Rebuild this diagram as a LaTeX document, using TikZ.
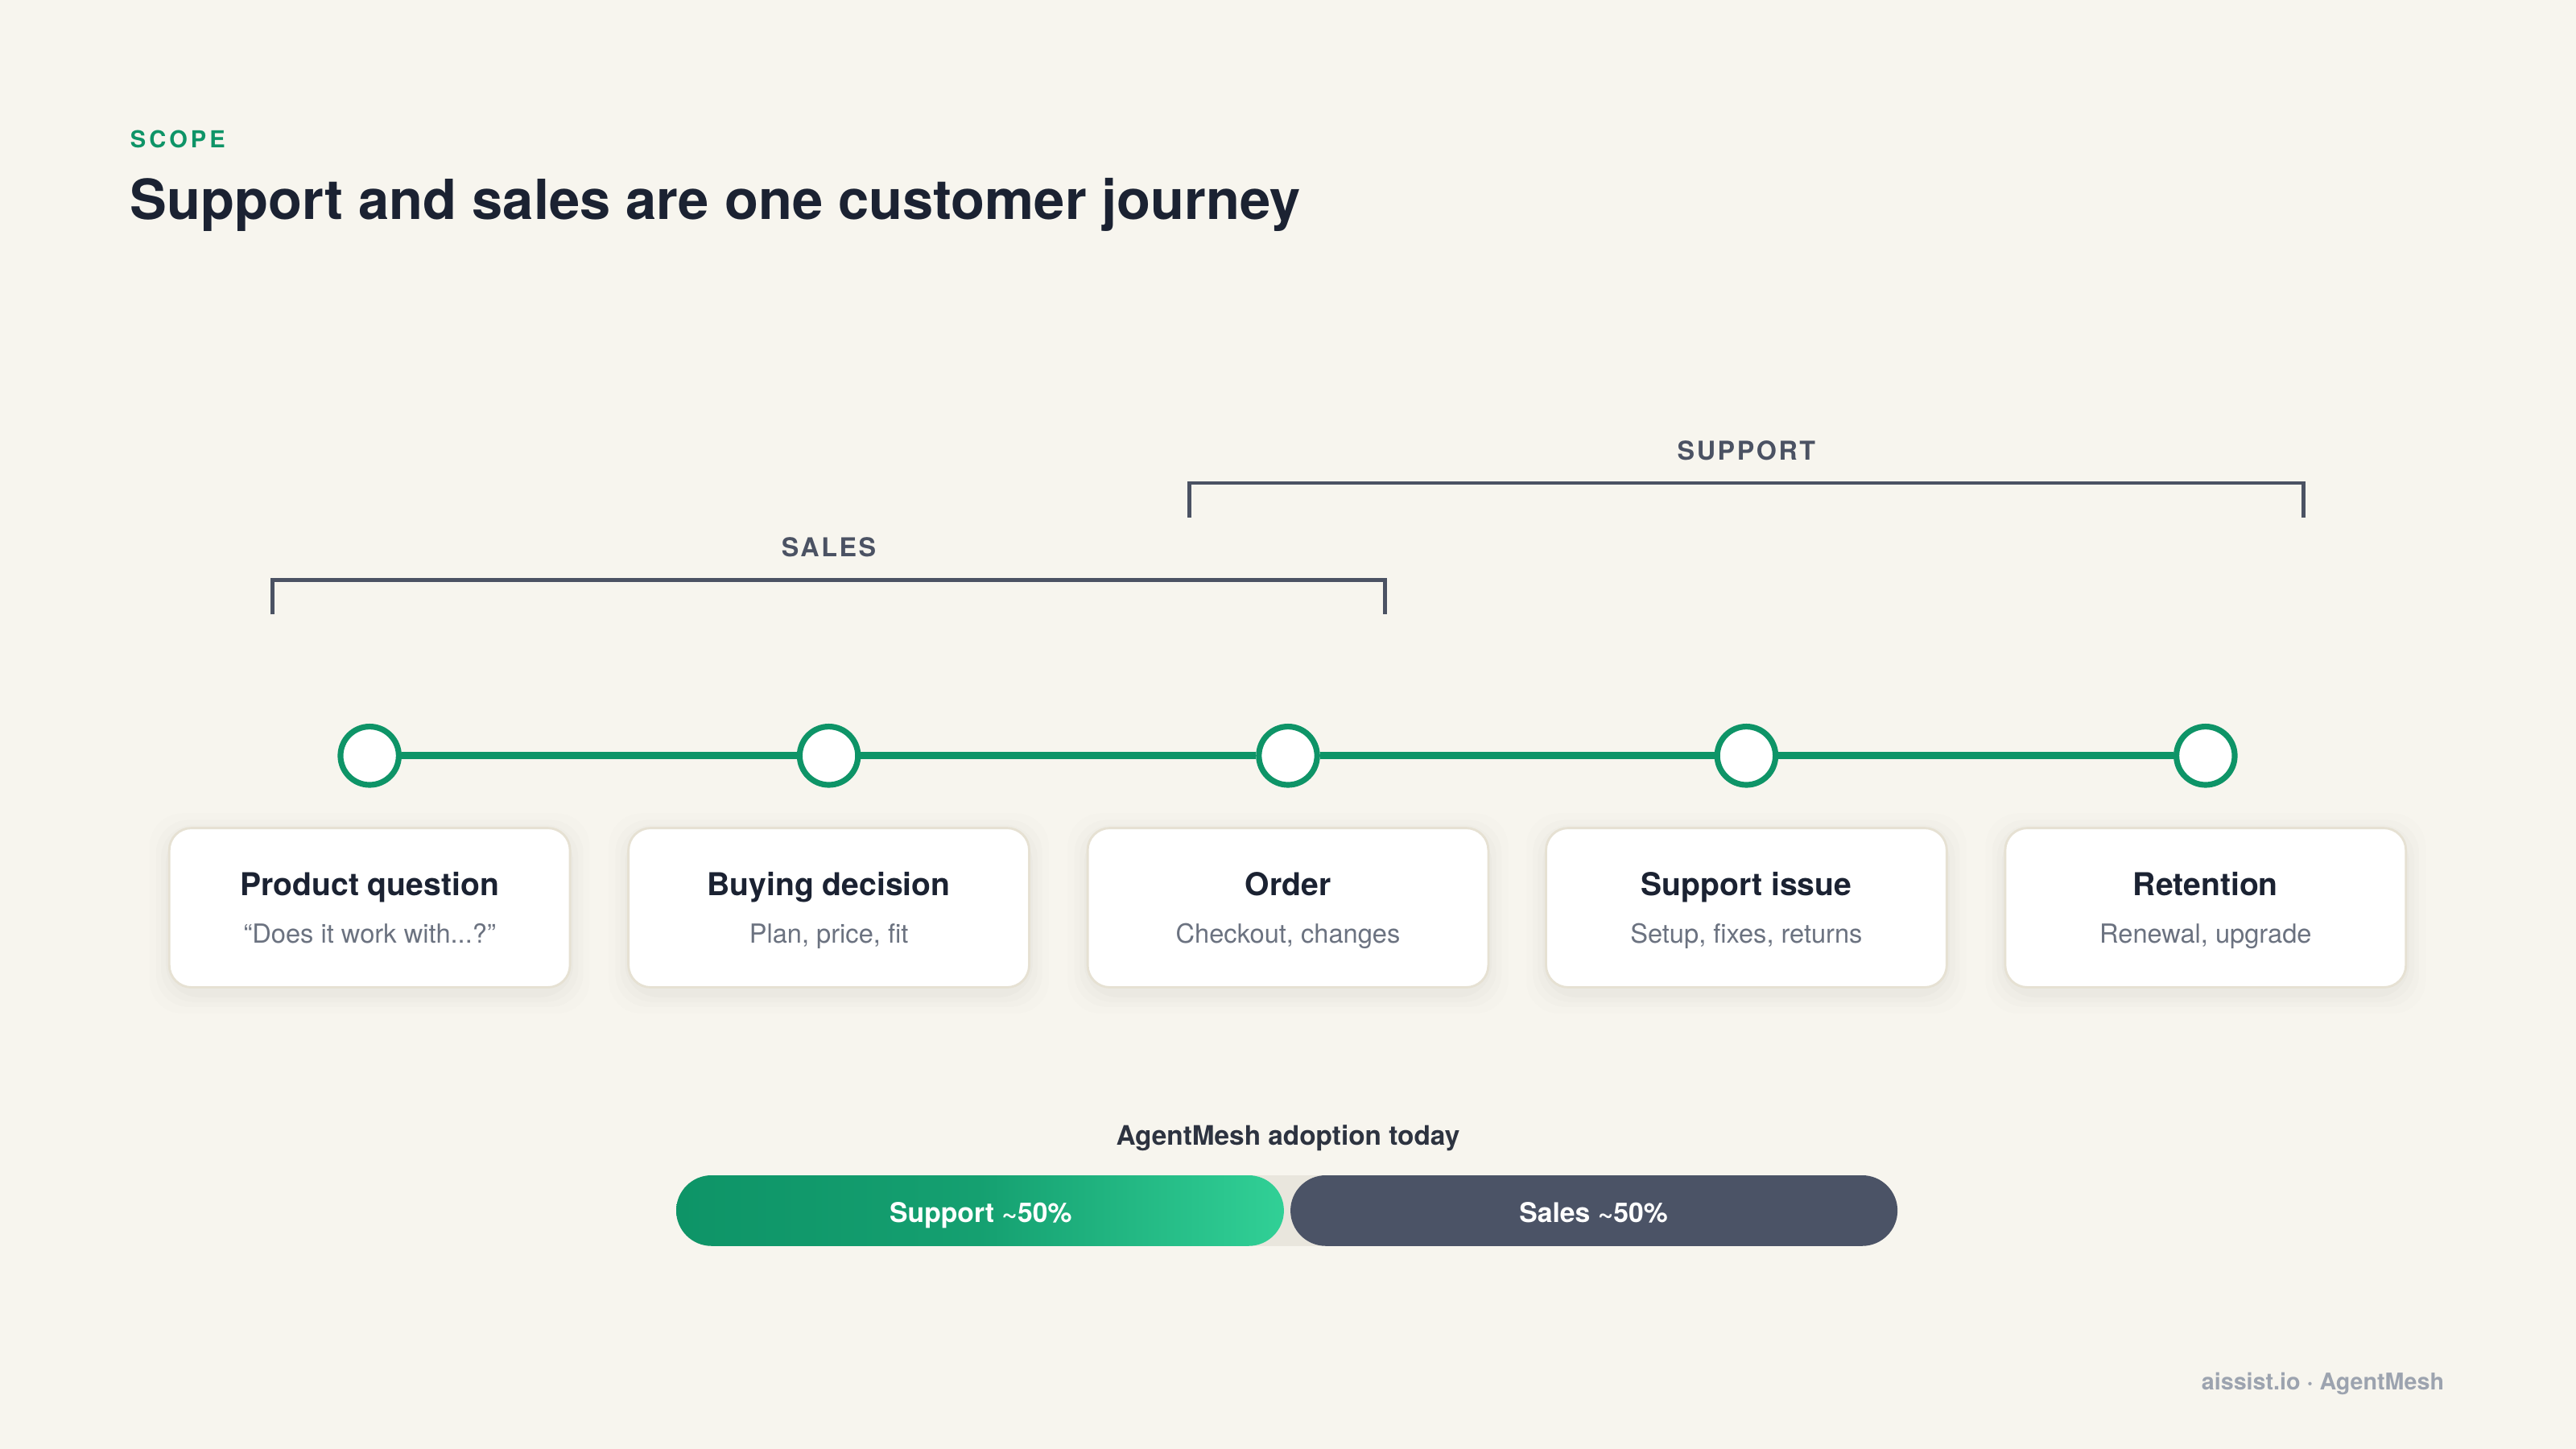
\documentclass[tikz,border=0pt]{standalone}
\usepackage{fontspec}
\setmainfont{TeX Gyre Heros}
\newfontfamily\spacedfont[LetterSpace=14]{TeX Gyre Heros}
\newfontfamily\bracketfont[LetterSpace=8]{TeX Gyre Heros}
\definecolor{bgc}{HTML}{F7F5EE}
\definecolor{brandgreen}{HTML}{0E9467}
\definecolor{lightgreen}{HTML}{31D096}
\definecolor{titlec}{HTML}{1B2232}
\definecolor{bracketc}{HTML}{4B5263}
\definecolor{cardborder}{HTML}{E6E1D3}
\definecolor{subc}{HTML}{6B7280}
\definecolor{footc}{HTML}{9CA3AF}
\definecolor{barc}{HTML}{4B5366}
\definecolor{trackc}{HTML}{E9E6DD}
\definecolor{labelc}{HTML}{2D3340}
\tikzset{
  stopdot/.style={circle,draw=brandgreen,line width=2pt,fill=white,minimum size=0.71cm,inner sep=0pt},
  tline/.style={draw=brandgreen,line width=2.6pt},
  bracket/.style={draw=bracketc,line width=1.3pt},
  bracketlabel/.style={text=bracketc,font=\bracketfont\fontsize{9}{10}\selectfont\bfseries,anchor=base},
  card/.style={rectangle,rounded corners=0.27cm,draw=cardborder,line width=0.8pt,fill=white,minimum width=4.88cm,minimum height=1.94cm,inner sep=0pt},
  cardtitle/.style={text=titlec,font=\fontsize{10.9}{12}\selectfont\bfseries,anchor=base},
  cardsub/.style={text=subc,font=\fontsize{9.1}{10}\selectfont,anchor=base},
  bartext/.style={text=white,font=\fontsize{9.4}{10}\selectfont\bfseries,anchor=base},
}
\begin{document}
\begin{tikzpicture}[x=0.02cm,y=-0.02cm]
\fill[bgc] (0,0) rectangle (1568,882);
\useasboundingbox (0,0) rectangle (1568,882);

% header
\node[anchor=base west,inner sep=0pt,text=brandgreen,font=\spacedfont\fontsize{8.1}{10}\selectfont\bfseries] (scope) at (79,89.7) {SCOPE};
\node[anchor=base west,inner sep=0pt,text=titlec,font=\fontsize{19.15}{22}\selectfont\bfseries] (title) at (79,133.3) {Support and sales are one customer journey};

% brackets
\coordinate (sup1) at (724,315);
\coordinate (sup2) at (724,294);
\coordinate (sup3) at (1402,294);
\coordinate (sup4) at (1402,315);
\draw[bracket] (sup1) -- (sup2) -- (sup3) -- (sup4);
\node[bracketlabel] (suplab) at (1063,280) {SUPPORT};

\coordinate (sal1) at (166,374);
\coordinate (sal2) at (166,353);
\coordinate (sal3) at (843,353);
\coordinate (sal4) at (843,374);
\draw[bracket] (sal1) -- (sal2) -- (sal3) -- (sal4);
\node[bracketlabel] (sallab) at (504.5,339) {SALES};

% timeline stops
\node[stopdot] (s1) at (225,460) {};
\node[stopdot] (s2) at (504.5,460) {};
\node[stopdot] (s3) at (784,460) {};
\node[stopdot] (s4) at (1063,460) {};
\node[stopdot] (s5) at (1342.5,460) {};
\draw[tline] (s1) -- (s2);
\draw[tline] (s2) -- (s3);
\draw[tline] (s3) -- (s4);
\draw[tline] (s4) -- (s5);

% cards with soft shadow
\foreach \cx in {225,504.5,784,1063,1342.5}{
  \foreach \e/\o in {12/0.008,8/0.01,5/0.012,2/0.016}{
    \fill[black,opacity=\o,rounded corners=0.4cm] (\cx-122-\e,504-\e+3) rectangle (\cx+122+\e,601+\e+4);
  }
}
\node[card] (c1) at (225,552.5) {};
\node[card] (c2) at (504.5,552.5) {};
\node[card] (c3) at (784,552.5) {};
\node[card] (c4) at (1063,552.5) {};
\node[card] (c5) at (1342.5,552.5) {};

\node[cardtitle] (t1) at (225,545) {Product question};
\node[cardsub] (u1) at (225,574) {“Does it work with...?”};
\node[cardtitle] (t2) at (504.5,545) {Buying decision};
\node[cardsub] (u2) at (504.5,574) {Plan, price, fit};
\node[cardtitle] (t3) at (784,545) {Order};
\node[cardsub] (u3) at (784,574) {Checkout, changes};
\node[cardtitle] (t4) at (1063,545) {Support issue};
\node[cardsub] (u4) at (1063,574) {Setup, fixes, returns};
\node[cardtitle] (t5) at (1342.5,545) {Retention};
\node[cardsub] (u5) at (1342.5,574) {Renewal, upgrade};

% adoption bar
\node[anchor=base,text=labelc,font=\fontsize{9.3}{10}\selectfont\bfseries] (adopt) at (784,697) {AgentMesh adoption today};
\fill[trackc,rounded corners=0.43cm] (411.6,715.4) rectangle (1155,758.4);
\shade[left color=brandgreen,right color=lightgreen,middle color=brandgreen!80!lightgreen,rounded corners=0.43cm] (411.6,715.4) rectangle (781.5,758.4);
\fill[barc,rounded corners=0.43cm] (785.5,715.4) rectangle (1155,758.4);
\node[bartext] (supbar) at (597,744) {Support \textasciitilde50\%};
\node[bartext] (salbar) at (970,744) {Sales \textasciitilde50\%};

% footer
\node[anchor=base east,inner sep=0pt,text=footc,font=\fontsize{8}{9}\selectfont\bfseries] (foot) at (1488,846) {aissist.io · AgentMesh};
\end{tikzpicture}
\end{document}
